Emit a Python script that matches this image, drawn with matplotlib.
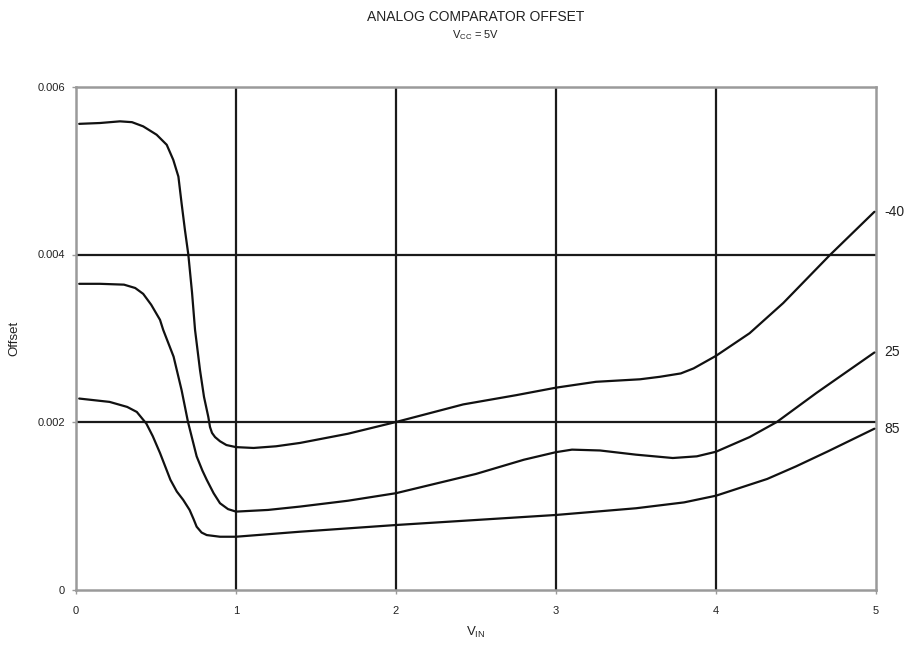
import numpy as np
import matplotlib
matplotlib.use("Agg")
import matplotlib.pyplot as plt

plt.rcParams['font.family'] = ['Liberation Sans', 'DejaVu Sans']
plt.rcParams['mathtext.fontset'] = 'custom'
plt.rcParams['mathtext.rm'] = 'Liberation Sans'
plt.rcParams['mathtext.it'] = 'Liberation Sans'

# Offset values in units of 1e-3
x_m40 = [0.02, 0.15, 0.275, 0.35, 0.42, 0.504, 0.567, 0.608, 0.64, 0.66, 0.681, 0.702,
         0.725, 0.744, 0.775, 0.80, 0.827, 0.8375, 0.85, 0.869, 0.90, 0.94, 1.0, 1.11,
         1.25, 1.4, 1.7, 2.0, 2.42, 2.75, 3.0, 3.25, 3.525, 3.65, 3.78, 3.86, 4.0, 4.21,
         4.42, 4.71, 4.99]
y_m40 = [5.56, 5.57, 5.59, 5.58, 5.53, 5.43, 5.31, 5.13, 4.93, 4.61, 4.29, 4.0,
         3.55, 3.10, 2.62, 2.30, 2.06, 1.94, 1.87, 1.82, 1.77, 1.725, 1.70, 1.69,
         1.71, 1.75, 1.86, 2.0, 2.21, 2.32, 2.41, 2.48, 2.51, 2.54, 2.58, 2.64, 2.79, 3.06,
         3.42, 3.99, 4.51]

x_25 = [0.02, 0.15, 0.3, 0.37, 0.42, 0.47, 0.525, 0.545, 0.61, 0.66, 0.70, 0.754, 0.79,
        0.817, 0.86, 0.90, 0.95, 1.0, 1.2, 1.4, 1.7, 2.0, 2.5, 2.8, 3.0, 3.1, 3.275,
        3.5, 3.73, 3.88, 4.0, 4.21, 4.38, 4.63, 4.99]
y_25 = [3.65, 3.65, 3.64, 3.60, 3.53, 3.40, 3.22, 3.10, 2.78, 2.38, 2.0, 1.59, 1.42,
        1.31, 1.15, 1.03, 0.96, 0.93, 0.95, 0.99, 1.06, 1.15, 1.38, 1.55, 1.64, 1.67, 1.66,
        1.61, 1.57, 1.59, 1.645, 1.82, 2.0, 2.35, 2.83]

x_85 = [0.02, 0.21, 0.32, 0.38, 0.44, 0.48, 0.525, 0.59, 0.63, 0.67, 0.71, 0.735, 0.754,
        0.785, 0.817, 0.9, 1.0, 1.4, 2.0, 2.5, 3.0, 3.5, 3.8, 4.0, 4.32, 4.5, 4.7, 4.99]
y_85 = [2.28, 2.24, 2.18, 2.12, 1.98, 1.83, 1.63, 1.31, 1.17, 1.07, 0.95, 0.84, 0.75,
        0.68, 0.65, 0.63, 0.63, 0.69, 0.77, 0.83, 0.89, 0.97, 1.04, 1.12, 1.32, 1.47, 1.65, 1.92]

series = [("-40", x_m40, y_m40), ("25", x_25, y_25), ("85", x_85, y_85)]

x_ticks = [0, 1, 2, 3, 4, 5]
y_ticks = [0, 0.002, 0.004, 0.006]
y_tick_labels = ["0", "0.002", "0.004", "0.006"]

fig = plt.figure(figsize=(9.09, 6.45), dpi=100)
ax = fig.add_axes([76/909, 1-589.5/645, 800/909, (589.5-87)/645])

gray = '#9a9a9a'
for xv in x_ticks[1:-1]:
    ax.axvline(xv, color='#1a1a1a', lw=1.6, zorder=1)
for yv in y_ticks[1:-1]:
    ax.axhline(yv, color='#1a1a1a', lw=1.6, zorder=1)

for name, xs, ys in series:
    yv = np.array(ys) * 1e-3
    ax.plot(xs, yv, color='#111111', lw=1.6, zorder=3,
            solid_capstyle='round', solid_joinstyle='round')
    ax.annotate(name, xy=(xs[-1], yv[-1]), xytext=(7, 0), textcoords='offset points',
                va='center', ha='left', fontsize=10, color='#222222', annotation_clip=False)

ax.set_xlim(0, 5)
ax.set_ylim(0, 0.006)
ax.set_xticks(x_ticks)
ax.set_xticklabels([str(v) for v in x_ticks])
ax.set_yticks(y_ticks)
ax.set_yticklabels(y_tick_labels)
for s in ax.spines.values():
    s.set_color(gray)
    s.set_linewidth(1.8)
ax.tick_params(axis='x', length=3, width=1, color=gray, pad=9, labelsize=8, labelcolor='#222222')
ax.tick_params(axis='y', length=3, width=1, color=gray, pad=5, labelsize=8, labelcolor='#222222')

ax.set_xlabel(r'V$_{\mathrm{IN}}$', fontsize=9.5, labelpad=6, color='#222222')
ax.set_ylabel('Offset', fontsize=9.5, labelpad=12, color='#222222')

cx = (76 + 876) / 2 / 909
fig.text(cx, 1 - 17/645, 'ANALOG COMPARATOR OFFSET', ha='center', va='center', fontsize=10, color='#222222')
fig.text(cx, 1 - 35/645, r'V$_{\mathrm{CC}}$ = 5V', ha='center', va='center', fontsize=8, color='#222222')

fig.savefig('out.png', dpi=100)
